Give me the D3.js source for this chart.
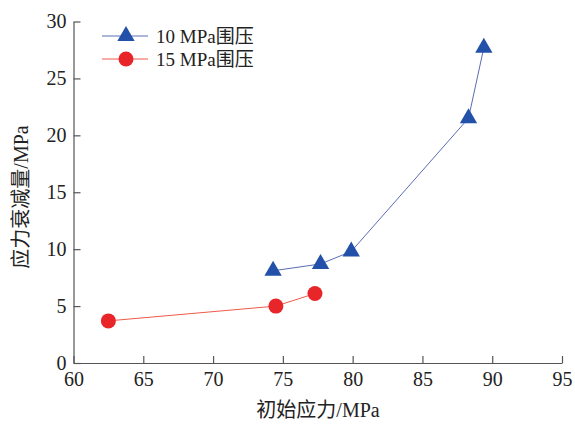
<!DOCTYPE html>
<html>
<head>
<meta charset="utf-8">
<script src="https://cdn.jsdelivr.net/npm/d3@7"></script>
<style>
  body { margin: 0; background: #fff; }
  svg text { fill: #222; }
</style>
</head>
<body>
<div id="chart"></div>
<script>
// data
const x10 = [74.3, 77.7, 79.9, 88.3, 89.4];
const y10 = [8.1, 8.7, 9.8, 21.5, 27.7];
const x15 = [62.5, 74.5, 77.3];
const y15 = [3.7, 5.0, 6.1];
const xTicks = [60, 65, 70, 75, 80, 85, 90, 95];
const yTicks = [0, 5, 10, 15, 20, 25, 30];
const seriesNames = ["10 MPa围压", "15 MPa围压"];

const serif = "'Liberation Serif', 'Noto Sans CJK SC', serif";

const W = 575, H = 425;
const margin = { top: 21.5, right: 13, bottom: 62, left: 73.5 };
const width = W - margin.left - margin.right,
      height = H - margin.top - margin.bottom;

const svg = d3.select("#chart").append("svg")
    .attr("width", W)
    .attr("height", H)
    .style("font-family", serif);

const g = svg.append("g")
    .attr("transform", `translate(${margin.left},${margin.top})`);

const x = d3.scaleLinear().domain([60, 95]).range([0, width]);
const y = d3.scaleLinear().domain([0, 30]).range([height, 0]);

// axes, ticks pointing inward
const xAxis = g.append("g")
    .attr("transform", `translate(0,${height})`)
    .call(d3.axisBottom(x).tickValues(xTicks).tickSizeInner(-7).tickSizeOuter(0).tickPadding(11));
const yAxis = g.append("g")
    .call(d3.axisLeft(y).tickValues(yTicks).tickSizeInner(-7).tickSizeOuter(0).tickPadding(7));

[xAxis, yAxis].forEach(a => {
  a.attr("font-family", serif).attr("font-size", 20);
  a.select(".domain").attr("stroke", "#555").attr("stroke-width", 1.2);
  a.selectAll(".tick line").attr("stroke", "#555").attr("stroke-width", 1.2);
  a.selectAll(".tick text")
   .style("font-family", serif)
   .style("font-size", "20px")
   .attr("fill", "#222");
});
xAxis.selectAll(".tick text").attr("dy", "0.6em");

// axis titles
svg.append("text")
    .attr("x", 318).attr("y", 417)
    .attr("text-anchor", "middle")
    .style("font-size", "20px")
    .text("初始应力/MPa");

svg.append("text")
    .attr("transform", "translate(28,197) rotate(-90)")
    .attr("text-anchor", "middle")
    .style("font-size", "20px")
    .text("应力衰减量/MPa");

const line = d3.line().x(d => x(d[0])).y(d => y(d[1]));
const d10 = x10.map((v, i) => [v, y10[i]]);
const d15 = x15.map((v, i) => [v, y15[i]]);

const blue = "#2350a8", blueLine = "#5a6cb6";
const red = "#e8262a", redLine = "#ee5a4a";
const tri = d3.symbol().type(d3.symbolTriangle).size(130);

g.append("path").datum(d10)
    .attr("d", line).attr("fill", "none")
    .attr("stroke", blueLine).attr("stroke-width", 1);
g.append("path").datum(d15)
    .attr("d", line).attr("fill", "none")
    .attr("stroke", redLine).attr("stroke-width", 1);

g.selectAll(".tri").data(d10).enter().append("path")
    .attr("class", "tri")
    .attr("d", tri)
    .attr("transform", d => `translate(${x(d[0])},${y(d[1])})`)
    .attr("fill", blue);

g.selectAll(".dot").data(d15).enter().append("circle")
    .attr("class", "dot")
    .attr("cx", d => x(d[0])).attr("cy", d => y(d[1]))
    .attr("r", 7.5)
    .attr("fill", red);

// legend
const legend = svg.append("g").attr("transform", "translate(102,36)");
seriesNames.forEach((name, i) => {
  const row = legend.append("g").attr("transform", `translate(0,${i * 23})`);
  row.append("line")
     .attr("x1", 0).attr("x2", 46)
     .attr("stroke", i === 0 ? blueLine : redLine).attr("stroke-width", 1);
  if (i === 0) {
    row.append("path").attr("d", tri).attr("transform", "translate(24,0)").attr("fill", blue);
  } else {
    row.append("circle").attr("cx", 24).attr("r", 7.5).attr("fill", red);
  }
  row.append("text")
     .attr("x", 54).attr("y", 0).attr("dy", "0.35em")
     .style("font-size", "19px")
     .text(name);
});
</script>
</body>
</html>
